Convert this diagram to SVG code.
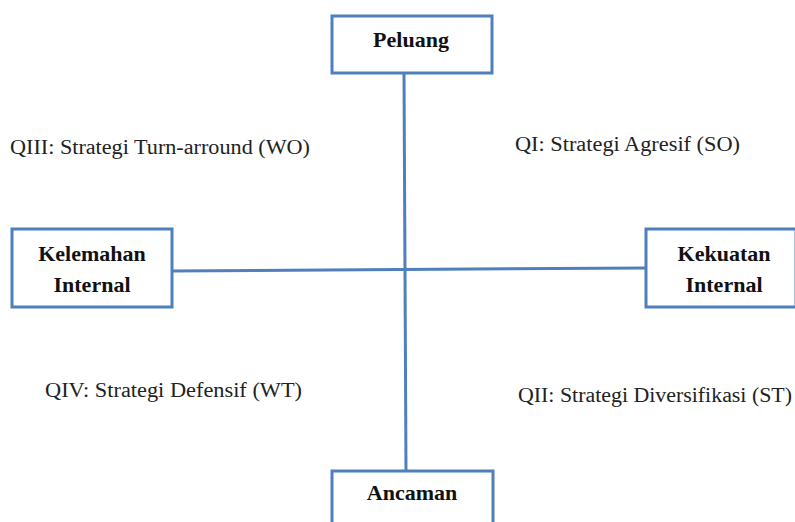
<svg xmlns="http://www.w3.org/2000/svg" width="795" height="522" viewBox="0 0 795 522">
<style>
.box{fill:#fff;stroke:#4f7fbd;stroke-width:3}
.ln{stroke:#4f7fbd;stroke-width:3;fill:none}
.lbl{font-family:"Liberation Serif","Times New Roman",serif;font-weight:bold;font-size:22px;fill:#111;text-anchor:middle}
.q{font-family:"Liberation Serif","Times New Roman",serif;font-size:20px;fill:#222}
</style>
<rect width="795" height="522" fill="#fff"/>
<g id="connectors">
<line class="ln" x1="404" y1="73" x2="406" y2="471"/>
<line class="ln" x1="172" y1="271" x2="646" y2="268"/>
</g>
<g id="peluang">
<rect class="box" x="332" y="16" width="160" height="57"/>
<text class="lbl" x="411" y="47">Peluang</text>
</g>
<g id="kelemahan">
<rect class="box" x="12" y="229" width="160" height="78"/>
<text class="lbl" x="92" y="261">Kelemahan</text>
<text class="lbl" x="92" y="292">Internal</text>
</g>
<g id="kekuatan">
<rect class="box" x="646" y="229" width="150" height="78"/>
<text class="lbl" x="724" y="261">Kekuatan</text>
<text class="lbl" x="724" y="292">Internal</text>
</g>
<g id="ancaman">
<rect class="box" x="332" y="471" width="161" height="60"/>
<text class="lbl" x="412" y="500">Ancaman</text>
</g>
<g id="quadrants">
<text class="q" x="10" y="154" textLength="300" lengthAdjust="spacingAndGlyphs">QIII: Strategi Turn-arround (WO)</text>
<text class="q" x="515" y="151" textLength="225" lengthAdjust="spacingAndGlyphs">QI: Strategi Agresif (SO)</text>
<text class="q" x="45" y="397" textLength="257" lengthAdjust="spacingAndGlyphs">QIV: Strategi Defensif (WT)</text>
<text class="q" x="518" y="402" textLength="274" lengthAdjust="spacingAndGlyphs">QII: Strategi Diversifikasi (ST)</text>
</g>
</svg>
